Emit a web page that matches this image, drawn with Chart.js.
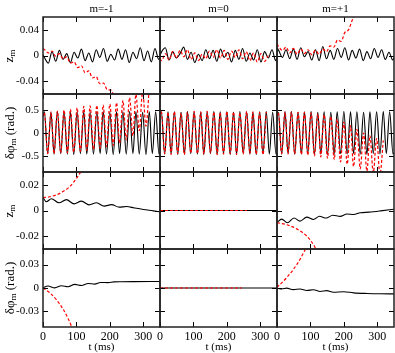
<!DOCTYPE html>
<html lang="en">
<head>
<meta charset="UTF-8">
<title>Mode amplitudes vs time</title>
<script src="https://cdn.jsdelivr.net/npm/chart.js"></script>
<style>
  body { margin: 0; background: #fff; }
  #wrap { position: relative; width: 395px; height: 353px; overflow: hidden; font-family: 'Liberation Serif', serif; color: #000; }
  #wrap canvas { position: absolute; }
  .lbl { position: absolute; white-space: nowrap; transform: translate(-50%, -50%); }
  .rot { transform: translate(-50%, -50%) rotate(-90deg); }
  sub { font-size: 70%; vertical-align: -0.25em; }
</style>
</head>
<body>
<div id="wrap"></div>
<script>
// ---- data ----
const colTitles = ['m=-1', 'm=0', 'm=+1'];
const xTicks = [0, 100, 200, 300];
const zTicksTop = [-0.04, 0, 0.04];
const phiTicksTop = [-0.5, 0, 0.5];
const zTicksBottom = [-0.02, 0, 0.02];
const phiTicksBottom = [-0.03, 0, 0.03];

// row 1: z_m, oscillating runs
const tZ = [0,5,16,27,38,49,60,71,82,93,104,115,126,137,148,159,170,181,192,203,214,225,236,247,258,269,280,291,302,313,324,335,346,350];
const zBlackM1 = [0.001,-0.004,-0.012,0.006,-0.009,0.008,-0.006,0.003,-0.011,0.005,-0.004,0.010,-0.008,0.004,-0.010,0.009,-0.003,0.011,-0.009,0.002,-0.007,0.010,-0.006,0.009,-0.011,0.005,-0.005,0.012,-0.008,0.007,-0.010,0.011,-0.006,-0.003];
const zRedM1 = [0.011,0.009,0.004,0.007,-0.001,0.003,-0.005,-0.002,-0.012,-0.010,-0.019,-0.016,-0.027,-0.024,-0.035,-0.033,-0.044,-0.043,-0.053,-0.054,-0.066];
const zBlackM0 = [0,0.006,0.012,-0.007,0.006,-0.004,0.003,0.013,-0.006,0.005,-0.011,0.002,-0.008,0.009,-0.005,0.008,-0.009,0.010,-0.003,0.005,-0.010,0.008,-0.006,0.011,-0.009,0.004,-0.007,0.009,-0.010,0.006,-0.004,0.009,-0.008,-0.003];
const zRedM0 = [-0.005,-0.008,0.003,-0.007,0.006,-0.004,0.008,-0.002,0.009,-0.006,0.004,-0.008,0.002,-0.005,0.007,-0.003,0.009,-0.004,0.008,-0.006,0.007,-0.003,0.009,-0.005,0.006,-0.008,0.004,-0.010,0.003,-0.009,0.000];
const zBlackP1 = [0.012,0.008,-0.003,0.009,-0.005,0.010,-0.006,0.012,-0.002,0.006,-0.007,0.009,-0.008,0.014,-0.005,0.008,-0.006,0.011,-0.003,0.012,-0.007,0.008,-0.004,0.010,-0.008,0.006,-0.005,0.011,-0.003,0.009,-0.006,0.005,-0.007,-0.004];
const zRedP1 = [0.018,0.014,0.008,0.013,0.004,0.011,0.002,0.010,0.003,0.009,0.001,0.008,0.002,0.010,0.006,0.015,0.013,0.024,0.022,0.036,0.040,0.055,0.066];

// row 2: delta phi_m, oscillating runs
const tPhi = [0,4,14,24,33,43,53,63,73,82,92,102,112,122,131,141,151,161,171,180,190,200,210,220,229,239,249,259,269,278,288,298,308,318,327,337,347,350];
const phiBlackM1 = [0.36,0.46,-0.45,0.45,-0.46,0.47,-0.45,0.46,-0.46,0.45,-0.47,0.46,-0.45,0.47,-0.46,0.45,-0.46,0.46,-0.45,0.47,-0.46,0.45,-0.47,0.46,-0.45,0.46,-0.46,0.47,-0.45,0.46,-0.46,0.45,-0.47,0.46,-0.45,0.46,-0.46,-0.42];
const phiRedM1 = [0.36,0.45,-0.45,0.46,-0.45,0.48,-0.44,0.50,-0.43,0.52,-0.42,0.55,-0.40,0.58,-0.38,0.59,-0.36,0.60,-0.33,0.61,-0.30,0.63,-0.27,0.66,-0.22,0.71,-0.15,0.77,-0.06,0.84,0.05,0.92,0.15,1.0];
const phiBlackM0 = [0.35,0.46,-0.46,0.46,-0.45,0.46,-0.47,0.45,-0.46,0.47,-0.45,0.46,-0.46,0.45,-0.47,0.46,-0.45,0.47,-0.46,0.46,-0.45,0.46,-0.47,0.45,-0.46,0.47,-0.45,0.46,-0.46,0.45,-0.47,0.46,-0.45,0.47,-0.46,0.45,-0.46,-0.41];
const phiRedM0 = [0.37,0.47,-0.45,0.45,-0.47,0.47,-0.45,0.44,-0.47,0.46,-0.44,0.47,-0.45,0.46,-0.46,0.47,-0.44,0.46,-0.47,0.45,-0.46,0.47,-0.45,0.46,-0.47,0.44,-0.46,0.47,-0.45,0.46,-0.46,0.45,-0.47,0.46];
const phiBlackP1 = [0.36,0.45,-0.46,0.46,-0.45,0.47,-0.46,0.45,-0.46,0.46,-0.45,0.47,-0.46,0.45,-0.46,0.46,-0.47,0.45,-0.46,0.46,-0.45,0.47,-0.46,0.46,-0.45,0.46,-0.46,0.45,-0.47,0.46,-0.45,0.46,-0.46,0.47,-0.45,0.46,-0.46,-0.42];
const phiRedP1 = [0.36,0.45,-0.45,0.46,-0.46,0.46,-0.46,0.45,-0.47,0.45,-0.48,0.44,-0.50,0.42,-0.52,0.40,-0.55,0.36,-0.58,0.30,-0.63,0.24,-0.68,0.16,-0.73,0.08,-0.78,0.0,-0.83,-0.06,-0.87,-0.12,-0.90,-0.16];

// row 3: z_m, slow runs
const tZ2BlackM1 = [0,10,25,48,70,93,115,138,160,183,205,228,250,273,300,330,350];
const z2BlackM1 = [0.0101,0.0068,0.0092,0.0060,0.0085,0.0052,0.0073,0.0044,0.0060,0.0034,0.0046,0.0026,0.0031,0.0020,0.0008,-0.0003,-0.0011];
const tZ2RedM1 = [0,20,40,60,80,100,120];
const z2RedM1 = [0.0101,0.0107,0.0122,0.0148,0.0186,0.0250,0.0330];
const tZ2M0 = [0, 350];
const z2BlackM0 = [0, 0];
const tZ2RedM0 = [0, 260];
const z2RedM0 = [0, 0];
const tZ2BlackP1 = [0,14,31,51,69,89,109,127,147,167,189,209,229,249,275,310,350];
const z2BlackP1 = [-0.0093,-0.0067,-0.0096,-0.0059,-0.0083,-0.0052,-0.0070,-0.0045,-0.0059,-0.0037,-0.0046,-0.0027,-0.0031,-0.0018,-0.0013,-0.0003,0.0010];
const tZ2RedP1 = [0,30,60,90,110,120];
const z2RedP1 = [-0.0095,-0.0111,-0.0145,-0.0202,-0.0270,-0.0320];

// row 4: delta phi_m, slow runs
const tPhi2BlackM1 = [0,15,35,55,75,95,115,135,155,172,195,212,235,270,350];
const phi2BlackM1 = [0.0002,0.0025,0.0002,0.0029,0.0016,0.0046,0.0033,0.0058,0.0050,0.0071,0.0069,0.0079,0.0081,0.0082,0.0083];
const tPhi2RedM1 = [0,20,40,60,75,86,90];
const phi2RedM1 = [0,-0.006,-0.015,-0.027,-0.039,-0.050,-0.055];
const tPhi2M0 = [0, 350];
const phi2BlackM0 = [0, 0];
const tPhi2RedM0 = [0, 245];
const phi2RedM0 = [0, 0];
const tPhi2BlackP1 = [0,14,29,49,69,89,109,129,149,169,199,229,269,309,350];
const phi2BlackP1 = [0,-0.0013,-0.0002,-0.0021,-0.0013,-0.0033,-0.0022,-0.0045,-0.0034,-0.0054,-0.0048,-0.0062,-0.0070,-0.0074,-0.0075];
const tPhi2RedP1 = [0,29,59,84,90];
const phi2RedP1 = [0.0008,0.0133,0.0300,0.0488,0.0540];

// ---- layout ----
const colLeft = [43, 160, 277];
const colW = 117;
const rowTop = [17, 94, 172, 249];
const rowH = [77, 78, 77, 78];
const L = 43, B = 26, P = 2;

Chart.defaults.font.family = "'Liberation Serif', serif";
Chart.defaults.color = '#000';

const frameTicks = {
  id: 'frameTicks',
  afterDatasetsDraw(chart) {
    const { ctx, chartArea: a, scales: { x, y } } = chart;
    ctx.save();
    ctx.strokeStyle = '#000';
    ctx.lineWidth = 1;
    ctx.beginPath();
    x.ticks.forEach(t => {
      const px = Math.round(x.getPixelForValue(t.value)) + 0.5;
      ctx.moveTo(px, a.top); ctx.lineTo(px, a.top + 5);
      ctx.moveTo(px, a.bottom); ctx.lineTo(px, a.bottom - 5);
    });
    y.ticks.forEach(t => {
      const py = Math.round(y.getPixelForValue(t.value)) + 0.5;
      ctx.moveTo(a.left, py); ctx.lineTo(a.left + 5, py);
      ctx.moveTo(a.right, py); ctx.lineTo(a.right - 5, py);
    });
    ctx.stroke();
    ctx.lineWidth = 1.5;
    ctx.strokeStyle = '#222';
    ctx.strokeRect(a.left, a.top, a.right - a.left, a.bottom - a.top);
    ctx.restore();
  }
};

function pts(t, v) { return v.map((y, i) => ({ x: t[i], y: y })); }

function panel(r, c, yMax, yTicks, red, black) {
  const cv = document.createElement('canvas');
  cv.width = L + colW + P;
  cv.height = P + rowH[r] + B;
  cv.style.left = (colLeft[c] - L) + 'px';
  cv.style.top = (rowTop[r] - P) + 'px';
  document.getElementById('wrap').appendChild(cv);
  new Chart(cv, {
    type: 'line',
    data: {
      datasets: [
        { data: red, borderColor: '#ff0000', borderWidth: 1.2, borderDash: [3, 2] },
        { data: black, borderColor: '#000', borderWidth: 1.1 }
      ]
    },
    options: {
      responsive: false,
      animation: false,
      events: [],
      layout: { padding: { top: P, right: P, left: 0, bottom: 0 } },
      elements: { point: { radius: 0 }, line: { cubicInterpolationMode: 'monotone', fill: false } },
      plugins: { legend: { display: false }, tooltip: { enabled: false } },
      scales: {
        x: {
          type: 'linear', min: 0, max: 350,
          grid: { display: false, drawTicks: false }, border: { display: false },
          ticks: { display: r === 3, font: { size: 12 }, padding: 3, maxRotation: 0, autoSkip: false },
          afterBuildTicks: s => { s.ticks = xTicks.map(v => ({ value: v })); },
          afterFit: s => { s.height = B; s.paddingLeft = 0; s.paddingRight = 0; }
        },
        y: {
          type: 'linear', min: -yMax, max: yMax,
          grid: { display: false, drawTicks: false }, border: { display: false },
          ticks: { display: c === 0, font: { size: 11 }, padding: 4, autoSkip: false, callback: v => String(v) },
          afterBuildTicks: s => { s.ticks = yTicks.map(v => ({ value: v })); },
          afterFit: s => { s.width = L; s.paddingTop = 0; s.paddingBottom = 0; }
        }
      }
    },
    plugins: [frameTicks]
  });
}

// row 1
panel(0, 0, 0.06, zTicksTop, pts(tZ, zRedM1), pts(tZ, zBlackM1));
panel(0, 1, 0.06, zTicksTop, pts(tZ, zRedM0), pts(tZ, zBlackM0));
panel(0, 2, 0.06, zTicksTop, pts(tZ, zRedP1), pts(tZ, zBlackP1));
// row 2
panel(1, 0, 0.85, phiTicksTop, pts(tPhi, phiRedM1), pts(tPhi, phiBlackM1));
panel(1, 1, 0.85, phiTicksTop, pts(tPhi, phiRedM0), pts(tPhi, phiBlackM0));
panel(1, 2, 0.85, phiTicksTop, pts(tPhi, phiRedP1), pts(tPhi, phiBlackP1));
// row 3
panel(2, 0, 0.03, zTicksBottom, pts(tZ2RedM1, z2RedM1), pts(tZ2BlackM1, z2BlackM1));
panel(2, 1, 0.03, zTicksBottom, pts(tZ2RedM0, z2RedM0), pts(tZ2M0, z2BlackM0));
panel(2, 2, 0.03, zTicksBottom, pts(tZ2RedP1, z2RedP1), pts(tZ2BlackP1, z2BlackP1));
// row 4
panel(3, 0, 0.05, phiTicksBottom, pts(tPhi2RedM1, phi2RedM1), pts(tPhi2BlackM1, phi2BlackM1));
panel(3, 1, 0.05, phiTicksBottom, pts(tPhi2RedM0, phi2RedM0), pts(tPhi2M0, phi2BlackM0));
panel(3, 2, 0.05, phiTicksBottom, pts(tPhi2RedP1, phi2RedP1), pts(tPhi2BlackP1, phi2BlackP1));

// ---- text labels ----
const wrap = document.getElementById('wrap');
function label(html, x, y, size, rotate) {
  const d = document.createElement('div');
  d.className = 'lbl' + (rotate ? ' rot' : '');
  d.style.left = x + 'px';
  d.style.top = y + 'px';
  d.style.fontSize = size + 'px';
  d.innerHTML = html;
  wrap.appendChild(d);
}
colTitles.forEach((t, c) => label(t, colLeft[c] + colW / 2, 8, 11));
colTitles.forEach((t, c) => label('t (ms)', colLeft[c] + colW / 2, 346, 11));
label('z<sub>m</sub>', 9, rowTop[0] + rowH[0] / 2, 13, true);
label('&delta;&phi;<sub>m</sub> (rad.)', 10, rowTop[1] + rowH[1] / 2, 13, true);
label('z<sub>m</sub>', 9, rowTop[2] + rowH[2] / 2, 13, true);
label('&delta;&phi;<sub>m</sub> (rad.)', 10, rowTop[3] + rowH[3] / 2, 13, true);
</script>
</body>
</html>
